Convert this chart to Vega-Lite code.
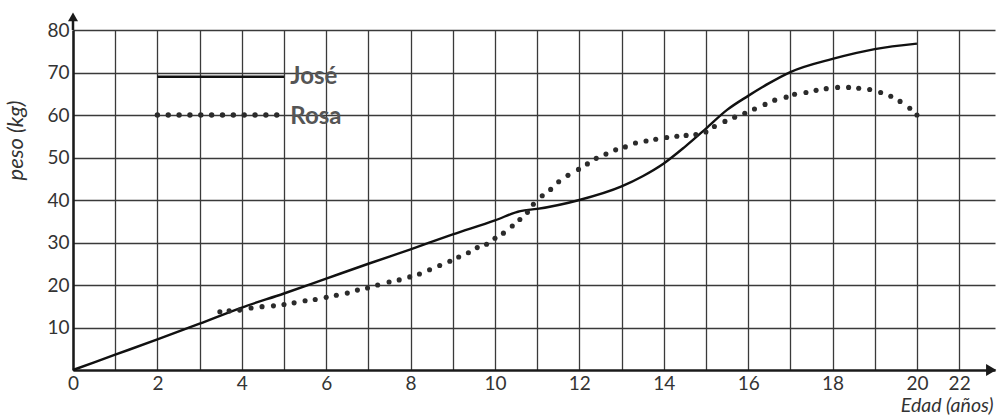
{
  "$schema": "https://vega.github.io/schema/vega-lite/v6.json",
  "width": 922,
  "height": 340,
  "autosize": {"type": "none"},
  "padding": {"left": 73, "top": 30, "right": 3, "bottom": 45},
  "background": "white",
  "config": {
    "view": {"stroke": null},
    "font": "Lato",
    "axis": {"labelFont": "Lato", "titleFont": "Lato"}
  },
  "datasets": {
    "jose": [
      {"edad": 0, "peso": 0}, {"edad": 1, "peso": 3.6}, {"edad": 2, "peso": 7.2}, {"edad": 3, "peso": 10.9},
      {"edad": 4, "peso": 14.7}, {"edad": 5, "peso": 18}, {"edad": 6, "peso": 21.5}, {"edad": 7, "peso": 25},
      {"edad": 8, "peso": 28.4}, {"edad": 9, "peso": 31.9}, {"edad": 10, "peso": 35.2}, {"edad": 10.6, "peso": 37.4},
      {"edad": 11, "peso": 37.9}, {"edad": 12, "peso": 40}, {"edad": 13, "peso": 43.2}, {"edad": 13.5, "peso": 45.6},
      {"edad": 14, "peso": 48.6}, {"edad": 14.5, "peso": 52.5}, {"edad": 15, "peso": 56.8}, {"edad": 15.5, "peso": 61.2},
      {"edad": 16, "peso": 64.5}, {"edad": 16.5, "peso": 67.5}, {"edad": 17, "peso": 70.1}, {"edad": 18, "peso": 73.2},
      {"edad": 19, "peso": 75.5}, {"edad": 20, "peso": 76.8}
    ],
    "rosa": [
      {"edad": 3.48, "peso": 13.7}, {"edad": 3.7, "peso": 13.9}, {"edad": 3.95, "peso": 14.1}, {"edad": 4.22, "peso": 14.6},
      {"edad": 4.48, "peso": 14.9}, {"edad": 4.75, "peso": 15.1}, {"edad": 5.0, "peso": 15.4}, {"edad": 5.24, "peso": 15.8},
      {"edad": 5.5, "peso": 16.3}, {"edad": 5.74, "peso": 16.6}, {"edad": 6.0, "peso": 17.1}, {"edad": 6.24, "peso": 17.6},
      {"edad": 6.5, "peso": 18.1}, {"edad": 6.74, "peso": 18.8}, {"edad": 6.98, "peso": 19.3}, {"edad": 7.22, "peso": 20},
      {"edad": 7.49, "peso": 20.7}, {"edad": 7.73, "peso": 21.2}, {"edad": 7.98, "peso": 21.9}, {"edad": 8.21, "peso": 22.6},
      {"edad": 8.45, "peso": 23.6}, {"edad": 8.69, "peso": 24.6}, {"edad": 8.93, "peso": 25.6}, {"edad": 9.14, "peso": 26.6},
      {"edad": 9.37, "peso": 27.6}, {"edad": 9.58, "peso": 28.8}, {"edad": 9.8, "peso": 29.6}, {"edad": 10.0, "peso": 31},
      {"edad": 10.2, "peso": 32.2}, {"edad": 10.41, "peso": 33.9}, {"edad": 10.59, "peso": 35.4}, {"edad": 10.77, "peso": 37.1},
      {"edad": 10.91, "peso": 39}, {"edad": 11.12, "peso": 41}, {"edad": 11.32, "peso": 42.5}, {"edad": 11.51, "peso": 44.3},
      {"edad": 11.73, "peso": 45.8}, {"edad": 11.98, "peso": 47.2}, {"edad": 12.19, "peso": 48.5}, {"edad": 12.4, "peso": 49.8},
      {"edad": 12.63, "peso": 50.8}, {"edad": 12.86, "peso": 51.8}, {"edad": 13.09, "peso": 52.5}, {"edad": 13.33, "peso": 53.4},
      {"edad": 13.58, "peso": 53.9}, {"edad": 13.81, "peso": 54.3}, {"edad": 14.07, "peso": 54.7}, {"edad": 14.31, "peso": 55},
      {"edad": 14.53, "peso": 55.2}, {"edad": 14.76, "peso": 55.4}, {"edad": 15.0, "peso": 56}, {"edad": 15.2, "peso": 57.3},
      {"edad": 15.45, "peso": 58.5}, {"edad": 15.68, "peso": 59.5}, {"edad": 15.92, "peso": 60.4}, {"edad": 16.15, "peso": 61.4},
      {"edad": 16.4, "peso": 62.5}, {"edad": 16.63, "peso": 63.5}, {"edad": 16.9, "peso": 64.2}, {"edad": 17.1, "peso": 64.9},
      {"edad": 17.37, "peso": 65.3}, {"edad": 17.61, "peso": 65.8}, {"edad": 17.85, "peso": 66.2}, {"edad": 18.12, "peso": 66.5},
      {"edad": 18.38, "peso": 66.5}, {"edad": 18.62, "peso": 66.3}, {"edad": 18.88, "peso": 66}, {"edad": 19.14, "peso": 65.3},
      {"edad": 19.38, "peso": 64.4}, {"edad": 19.6, "peso": 63.2}, {"edad": 19.83, "peso": 61.6}, {"edad": 20, "peso": 60}
    ]
  },
  "layer": [
    {
      "data": {"name": "jose"},
      "mark": {"type": "line", "color": "#111111", "strokeWidth": 2.4, "interpolate": "monotone"},
      "encoding": {
        "x": {
          "field": "edad", "type": "quantitative",
          "scale": {"domain": [0, 21.85], "nice": false, "zero": false},
          "axis": {
            "values": [0,1,2,3,4,5,6,7,8,9,10,11,12,13,14,15,16,17,18,19,20,21],
            "labelExpr": "datum.value == 21 ? '22' : (datum.value % 2 == 0 ? datum.label : '')",
            "grid": true, "gridColor": "#3a3a3a", "gridWidth": 1.3, "gridOpacity": 1,
            "domain": true, "domainColor": "#1a1a1a", "domainWidth": 2.5,
            "ticks": false, "labelPadding": 4, "labelFontSize": 19, "labelColor": "#333333",
            "labelFlush": false, "labelOverlap": false,
            "title": "Edad (años)", "titleFontStyle": "italic", "titleFontWeight": "normal",
            "titleFontSize": 19.5, "titleColor": "#333333",
            "titleX": 920, "titleY": 35, "titleAlign": "right", "titleBaseline": "middle", "titleAnchor": null
          }
        },
        "y": {
          "field": "peso", "type": "quantitative",
          "scale": {"domain": [0, 80], "nice": false},
          "axis": {
            "values": [10,20,30,40,50,60,70,80],
            "grid": true, "gridColor": "#3a3a3a", "gridWidth": 1.3, "gridOpacity": 1,
            "domain": true, "domainColor": "#1a1a1a", "domainWidth": 2.5,
            "ticks": false, "labelPadding": 4, "labelFontSize": 19, "labelColor": "#333333",
            "labelFlush": false, "labelOverlap": false,
            "title": "peso (kg)", "titleFontStyle": "italic", "titleFontWeight": "normal",
            "titleFontSize": 22, "titleColor": "#333333",
            "titleAngle": -90, "titleX": -58, "titleY": 110, "titleAlign": "center", "titleBaseline": "middle", "titleAnchor": null
          }
        }
      }
    },
    {
      "data": {"name": "rosa"},
      "mark": {"type": "point", "shape": "circle", "filled": true, "color": "#2b2b2b", "size": 26, "opacity": 1},
      "encoding": {
        "x": {"field": "edad", "type": "quantitative"},
        "y": {"field": "peso", "type": "quantitative"}
      }
    },
    {
      "data": {"values": [{}]},
      "mark": {"type": "rule", "color": "#1a1a1a", "strokeWidth": 2.5},
      "encoding": {"x": {"datum": 0}, "y": {"datum": 80}, "y2": {"datum": 83}}
    },
    {
      "data": {"values": [{}]},
      "mark": {"type": "point", "shape": "triangle-up", "filled": true, "color": "#1a1a1a", "size": 100, "opacity": 1},
      "encoding": {"x": {"datum": 0}, "y": {"datum": 83.1}}
    },
    {
      "data": {"values": [{}]},
      "mark": {"type": "point", "shape": "triangle-right", "filled": true, "color": "#1a1a1a", "size": 140, "opacity": 1},
      "encoding": {"x": {"datum": 21.76}, "y": {"datum": 0}}
    },
    {
      "data": {"values": [{"serie": "José"}]},
      "mark": {"type": "rule", "color": "#111111", "strokeWidth": 2.4},
      "encoding": {"x": {"datum": 2}, "x2": {"datum": 5}, "y": {"datum": 69}}
    },
    {
      "data": {"values": [{"serie": "Rosa"}]},
      "mark": {"type": "rule", "color": "#2b2b2b", "strokeWidth": 5.4, "strokeCap": "round", "strokeDash": [0, 10.85]},
      "encoding": {"x": {"datum": 2}, "x2": {"datum": 5}, "y": {"datum": 60}}
    },
    {
      "data": {"values": [{"serie": "José"}]},
      "mark": {"type": "text", "align": "left", "baseline": "middle", "font": "Lato", "fontSize": 24, "fontWeight": "bold", "color": "#555555"},
      "encoding": {"x": {"datum": 5.15}, "y": {"datum": 69}, "text": {"field": "serie"}}
    },
    {
      "data": {"values": [{"serie": "Rosa"}]},
      "mark": {"type": "text", "align": "left", "baseline": "middle", "font": "Lato", "fontSize": 24, "fontWeight": "bold", "color": "#555555"},
      "encoding": {"x": {"datum": 5.15}, "y": {"datum": 59.6}, "text": {"field": "serie"}}
    }
  ]
}
